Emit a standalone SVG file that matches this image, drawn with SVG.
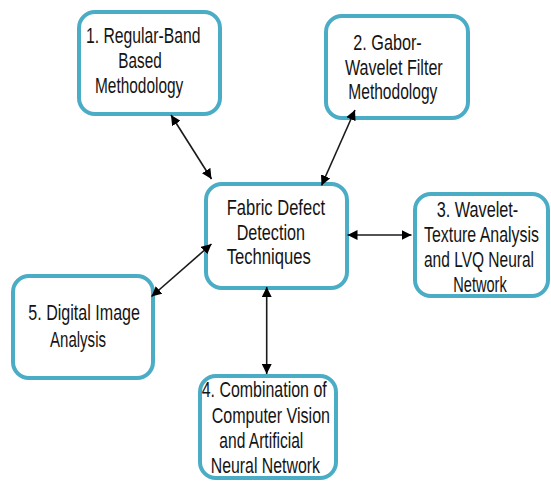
<svg xmlns="http://www.w3.org/2000/svg" width="551" height="482" viewBox="0 0 551 482">
  <style>
    .box { fill: #ffffff; stroke: #4bacc6; stroke-width: 4; }
    .lbl { font-family: "Liberation Sans", Arial, sans-serif; font-size: 22px; fill: #141414; }
    .link { stroke: #1a1a1a; stroke-width: 1.6; fill: none; marker-start: url(#head); marker-end: url(#head); }
  </style>
  <defs>
    <marker id="head" viewBox="0 0 10 10" refX="10" refY="5" markerWidth="10" markerHeight="10" markerUnits="userSpaceOnUse" orient="auto-start-reverse">
      <path d="M0,0 L10,5 L0,10 z" fill="#000000"/>
    </marker>
  </defs>

  <rect width="551" height="482" fill="#ffffff"/>

  <g id="n1">
    <rect class="box" x="79" y="12" width="141" height="102" rx="16"/>
    <text class="lbl" x="86" y="42.5" textLength="114.5" lengthAdjust="spacingAndGlyphs">1. Regular-Band</text>
    <text class="lbl" x="118.3" y="68" textLength="43.4" lengthAdjust="spacingAndGlyphs">Based</text>
    <text class="lbl" x="95" y="93" textLength="88.3" lengthAdjust="spacingAndGlyphs">Methodology</text>
  </g>

  <g id="n2">
    <rect class="box" x="326" y="16" width="142" height="102" rx="16"/>
    <text class="lbl" x="353.3" y="50" textLength="68.4" lengthAdjust="spacingAndGlyphs">2. Gabor-</text>
    <text class="lbl" x="345" y="75" textLength="97.7" lengthAdjust="spacingAndGlyphs">Wavelet Filter</text>
    <text class="lbl" x="348.3" y="99.3" textLength="89" lengthAdjust="spacingAndGlyphs">Methodology</text>
  </g>

  <g id="center">
    <rect class="box" x="206" y="184" width="141" height="104" rx="16"/>
    <text class="lbl" x="226.7" y="215" textLength="98.3" lengthAdjust="spacingAndGlyphs">Fabric Defect</text>
    <text class="lbl" x="236.7" y="240" textLength="68.3" lengthAdjust="spacingAndGlyphs">Detection</text>
    <text class="lbl" x="226.7" y="264" textLength="84" lengthAdjust="spacingAndGlyphs">Techniques</text>
  </g>

  <!-- narrow box near the right margin: lines are condensed with a horizontal scale -->
  <g id="n3">
    <rect class="box" x="415" y="194" width="133" height="102" rx="16"/>
    <text class="lbl" transform="translate(436.7 216.7) scale(0.72 1)" textLength="113.3" lengthAdjust="spacingAndGlyphs">3. Wavelet-</text>
    <text class="lbl" transform="translate(424 241.7) scale(0.72 1)" textLength="159.7" lengthAdjust="spacingAndGlyphs">Texture Analysis</text>
    <text class="lbl" transform="translate(424 266.7) scale(0.72 1)" textLength="152.8" lengthAdjust="spacingAndGlyphs">and LVQ Neural</text>
    <text class="lbl" transform="translate(453.3 291.7) scale(0.72 1)" textLength="74.2" lengthAdjust="spacingAndGlyphs">Network</text>
  </g>

  <g id="n5">
    <rect class="box" x="13" y="276" width="140" height="102" rx="16"/>
    <text class="lbl" x="28.3" y="320" textLength="111.7" lengthAdjust="spacingAndGlyphs">5. Digital Image</text>
    <text class="lbl" x="50" y="346.7" textLength="56" lengthAdjust="spacingAndGlyphs">Analysis</text>
  </g>

  <g id="n4">
    <rect class="box" x="200" y="376" width="136" height="102" rx="16"/>
    <text class="lbl" x="201.7" y="396.7" textLength="125" lengthAdjust="spacingAndGlyphs">4. Combination of</text>
    <text class="lbl" x="211.7" y="423.3" textLength="118.3" lengthAdjust="spacingAndGlyphs">Computer Vision</text>
    <text class="lbl" x="219.3" y="448.3" textLength="84" lengthAdjust="spacingAndGlyphs">and Artificial</text>
    <text class="lbl" x="210.7" y="473.3" textLength="109.3" lengthAdjust="spacingAndGlyphs">Neural Network</text>
  </g>

  <!-- connectors drawn last so their heads sit over the box outlines -->
  <g id="connectors">
    <line class="link" x1="171" y1="115" x2="211.5" y2="179"/>
    <line class="link" x1="321.5" y1="185.5" x2="355" y2="110"/>
    <line class="link" x1="347.5" y1="235" x2="411.5" y2="235"/>
    <line class="link" x1="211.5" y1="244" x2="151.5" y2="296.5"/>
    <line class="link" x1="266.7" y1="287" x2="266.7" y2="374"/>
  </g>
</svg>
